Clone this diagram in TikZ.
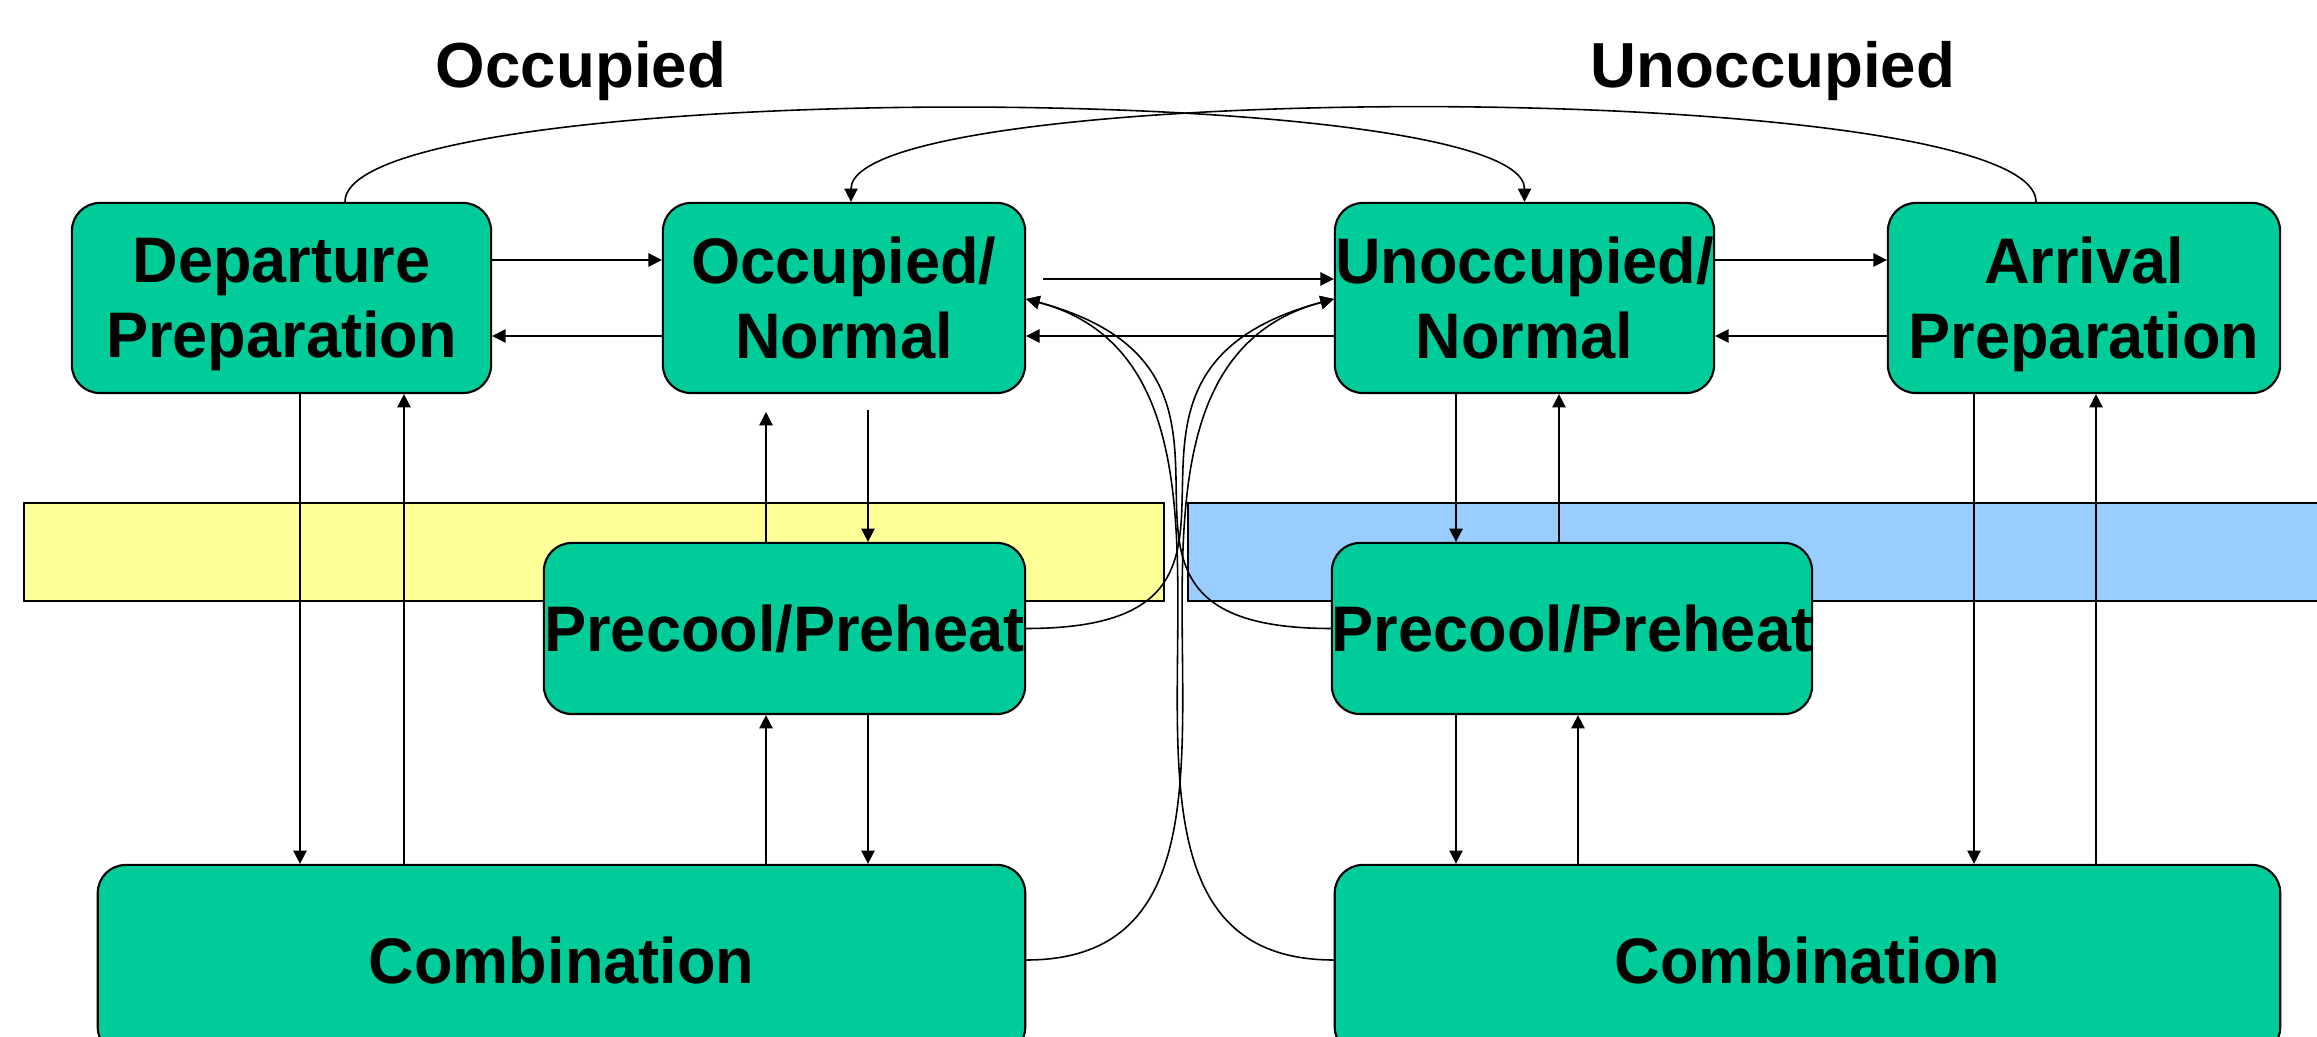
\documentclass[tikz,border=0pt]{standalone}
\usepackage{fontspec}
\setmainfont{Liberation Sans}
\newfontfamily\statefont[FakeStretch=0.98]{Liberation Sans}
\usetikzlibrary{arrows.meta}
\definecolor{stategreen}{HTML}{00CC99}
\definecolor{occyellow}{HTML}{FFFF99}
\definecolor{unoccblue}{HTML}{99CCFF}
\begin{document}
\begin{tikzpicture}[x=0.01cm,y=0.01cm,
    state/.style={draw=black, line width=0.6pt, fill=stategreen, rounded corners=0.28cm,
      inner sep=0pt, align=center, text depth=0pt, font=\statefont\fontsize{18.3}{21.3}\selectfont\bfseries},
    band/.style={draw=black, line width=0.6pt},
    arr/.style={-{Triangle[length=3.8pt,width=3.8pt]}, line width=0.45pt},
    title/.style={anchor=base, font=\fontsize{18.1}{22}\selectfont\bfseries}]
    \useasboundingbox (0,0) rectangle (2317,-1037);
    \fill[white] (0,0) rectangle (2317,-1037);

    \filldraw[band, fill=occyellow] (24,-503) rectangle (1164,-601);
    \filldraw[band, fill=unoccblue] (1188,-503) rectangle (2360,-601);

    \node[title] (occtitle) at (581,-88) {Occupied};
    \node[title] (unocctitle) at (1773,-88) {Unoccupied};

    \node[state, minimum width=4.19cm, minimum height=1.9cm] (depprep) at (281.5,-298) {Departure\\Preparation};
    \node[state, minimum width=3.62cm, minimum height=1.9cm] (occnorm) at (844,-298) {Occupied/\\Normal};
    \node[state, minimum width=3.79cm, minimum height=1.9cm] (unoccnorm) at (1524.5,-298) {Unoccupied/\\Normal};
    \node[state, minimum width=3.92cm, minimum height=1.9cm] (arrprep) at (2084,-298) {Arrival\\Preparation};
    \node[state, minimum width=4.81cm, minimum height=1.71cm] (occpre) at (784.5,-628.5) {Precool/Preheat};
    \node[state, minimum width=4.74cm, minimum height=1.71cm] (unoccpre) at (1572,-628.5) {Precool/Preheat};
    \node[state, minimum width=9.27cm, minimum height=1.9cm] (occcomb) at (561.5,-960) {Combination};
    \node[state, minimum width=9.45cm, minimum height=1.9cm] (unocccomb) at (1807.5,-960) {Combination};

    \coordinate (occout) at (1043,-279);
    \coordinate (occup) at (766,-412);
    \coordinate (occdown) at (868,-410);

    \draw[arr] (depprep.east |- 0,-260) -- (occnorm.west |- 0,-260);
    \draw[arr] (occnorm.west |- 0,-336) -- (depprep.east |- 0,-336);
    \draw[arr] (occout) -- (unoccnorm.west |- occout);
    \draw[arr] (unoccnorm.west |- 0,-336) -- (occnorm.east |- 0,-336);
    \draw[arr] (unoccnorm.east |- 0,-260) -- (arrprep.west |- 0,-260);
    \draw[arr] (arrprep.west |- 0,-336) -- (unoccnorm.east |- 0,-336);

    \draw[arr] (300,0 |- depprep.south) -- (300,0 |- occcomb.north);
    \draw[arr] (404,0 |- occcomb.north) -- (404,0 |- depprep.south);
    \draw[arr] (occup |- occpre.north) -- (occup);
    \draw[arr] (occdown) -- (occdown |- occpre.north);
    \draw[arr] (766,0 |- occcomb.north) -- (766,0 |- occpre.south);
    \draw[arr] (868,0 |- occpre.south) -- (868,0 |- occcomb.north);

    \draw[arr] (1456,0 |- unoccnorm.south) -- (1456,0 |- unoccpre.north);
    \draw[arr] (1559,0 |- unoccpre.north) -- (1559,0 |- unoccnorm.south);
    \draw[arr] (1456,0 |- unoccpre.south) -- (1456,0 |- unocccomb.north);
    \draw[arr] (1578,0 |- unocccomb.north) -- (1578,0 |- unoccpre.south);
    \draw[arr] (1974,0 |- arrprep.south) -- (1974,0 |- unocccomb.north);
    \draw[arr] (2096,0 |- unocccomb.north) -- (2096,0 |- arrprep.south);

    \draw[arr] (345,0 |- depprep.north) to[out=90,in=90,looseness=0.27] (unoccnorm.north);
    \draw[arr] (2036,0 |- arrprep.north) to[out=90,in=90,looseness=0.27] (851,0 |- occnorm.north);

    \draw[arr] (occpre.east) to[out=0,in=195,looseness=1.7] (unoccnorm.west |- 0,-299);
    \draw[arr] (occcomb.east) to[out=0,in=195,looseness=1.1] (unoccnorm.west |- 0,-299);
    \draw[arr] (unoccpre.west) to[out=180,in=-15,looseness=1.7] (occnorm.east |- 0,-299);
    \draw[arr] (unocccomb.west) to[out=180,in=-15,looseness=1.1] (occnorm.east |- 0,-299);
\end{tikzpicture}
\end{document}
